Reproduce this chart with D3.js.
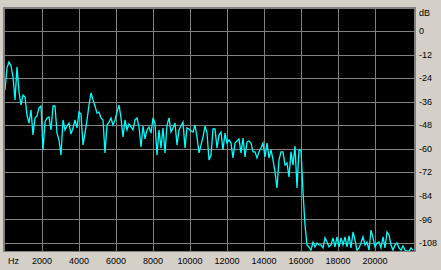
<!DOCTYPE html>
<html>
<head>
<meta charset="utf-8">
<script src="https://cdn.jsdelivr.net/npm/d3@7"></script>
<style>
  html, body { margin: 0; padding: 0; background: #d4d0c8; }
  text { font-family: "Liberation Sans", Arial, sans-serif; font-size: 9px; fill: #000; }
</style>
</head>
<body>
<script>
// spectrum levels in dB, one value per analysis bin from 0 Hz up to Nyquist
const levels = [
  -30.1, -18.8, -15.8, -17.8, -23.4, -35.1, -18.3, -31.1, -37.7, -32.6,
  -33.6, -42.8, -46.9, -40.2, -53.0, -44.3, -43.3, -39.2, -38.2, -60.6,
  -46.4, -44.3, -43.8, -50.4, -38.2, -38.2, -52.0, -55.5, -63.2, -45.3,
  -50.4, -48.4, -46.9, -52.5, -49.4, -45.3, -49.4, -41.3, -42.3, -58.1,
  -52.0, -45.3, -37.7, -31.6, -35.1, -38.2, -41.8, -41.3, -44.3, -45.3,
  -62.1, -47.9, -46.4, -44.3, -47.9, -45.3, -41.3, -37.7, -44.3, -54.0,
  -45.3, -50.4, -47.4, -48.9, -50.4, -45.3, -44.3, -48.9, -59.1, -48.4,
  -55.0, -50.4, -48.9, -52.0, -44.3, -46.9, -63.2, -50.4, -59.6, -49.4,
  -62.1, -47.9, -44.3, -51.5, -49.4, -46.9, -58.1, -50.4, -48.4, -46.4,
  -59.6, -49.4, -49.9, -50.9, -51.5, -47.9, -54.0, -62.1, -58.1, -54.0,
  -48.4, -52.0, -65.7, -63.2, -49.9, -49.9, -59.6, -53.0, -51.5, -60.6,
  -52.0, -57.1, -55.5, -57.1, -64.7, -57.1, -56.0, -55.0, -62.1, -54.5,
  -64.2, -56.5, -56.0, -57.1, -61.6, -61.6, -64.7, -61.6, -59.6, -57.1,
  -64.2, -57.1, -64.7, -60.6, -65.7, -71.8, -80.0, -65.7, -61.6, -61.6,
  -68.3, -67.2, -74.4, -61.6, -68.3, -58.6, -80.0, -60.6, -60.6, -82.0,
  -98.8, -109.0, -110.0, -111.6, -107.5, -110.0, -108.0, -109.0, -109.0, -110.5,
  -105.4, -107.5, -110.0, -109.0, -105.4, -110.0, -104.9, -110.0, -105.4, -109.0,
  -104.9, -110.0, -104.4, -110.5, -102.4, -106.5, -111.6, -110.5, -108.0, -104.9,
  -109.0, -107.5, -111.6, -101.4, -105.4, -110.0, -108.0, -107.5, -110.5, -104.9,
  -110.5, -102.4, -103.9, -109.0, -111.6, -109.0, -108.0, -110.5, -111.6, -109.5,
  -111.6, -112.1, -112.1, -110.5, -111.6
];
const nyquist = 22050;
const freqTicks = [2000, 4000, 6000, 8000, 10000, 12000, 14000, 16000, 18000, 20000];
const dbTicks = [0, -12, -24, -36, -48, -60, -72, -84, -96, -108];

const W = 441, H = 270;
const plot = {left: 5, top: 9, right: 414, bottom: 251};

const svg = d3.select("body").append("svg")
  .attr("width", W)
  .attr("height", H);

const x = d3.scaleLinear().domain([0, nyquist]).range([plot.left, 413]);
const y = d3.scaleLinear().domain([0, -108]).range([31, 243]);

// sunken frame + black plot area
svg.append("rect")
  .attr("x", plot.left - 2).attr("y", plot.top - 2)
  .attr("width", plot.right - plot.left + 4).attr("height", plot.bottom - plot.top + 3)
  .attr("fill", "#808080");
svg.append("rect")
  .attr("x", plot.right).attr("y", plot.top - 2)
  .attr("width", 2).attr("height", plot.bottom - plot.top + 3)
  .attr("fill", "#808080");
svg.append("rect")
  .attr("x", plot.left).attr("y", plot.top)
  .attr("width", plot.right - plot.left).attr("height", plot.bottom - plot.top)
  .attr("fill", "#000");

svg.append("clipPath").attr("id", "clip")
  .append("rect")
  .attr("x", plot.left).attr("y", plot.top)
  .attr("width", plot.right - plot.left).attr("height", plot.bottom - plot.top);

// grid
const grid = svg.append("g").attr("stroke", "#808080").attr("stroke-width", 1);
grid.selectAll("line.v").data(freqTicks).enter().append("line")
  .attr("x1", d => Math.round(x(d)) + 0.5).attr("x2", d => Math.round(x(d)) + 0.5)
  .attr("y1", plot.top).attr("y2", plot.bottom);
grid.selectAll("line.h").data(dbTicks).enter().append("line")
  .attr("y1", d => Math.round(y(d)) + 0.5).attr("y2", d => Math.round(y(d)) + 0.5)
  .attr("x1", plot.left).attr("x2", plot.right);

// spectrum line
const binHz = nyquist / (levels.length - 1);
const line = d3.line()
  .x((d, i) => x(i * binHz))
  .y(d => y(d));

svg.append("path")
  .datum(levels)
  .attr("clip-path", "url(#clip)")
  .attr("fill", "none")
  .attr("stroke", "#00ffff")
  .attr("stroke-width", 1.3)
  .attr("d", line);

// right dB labels
svg.append("text").attr("x", 419).attr("y", 13).attr("dy", "0.35em").text("dB");
svg.selectAll("text.db").data(dbTicks).enter().append("text")
  .attr("x", 419).attr("y", d => y(d)).attr("dy", "0.35em")
  .text(d => d);

// bottom Hz labels
svg.append("text").attr("x", 8).attr("y", 261).attr("dy", "0.35em").text("Hz");
svg.selectAll("text.hz").data(freqTicks).enter().append("text")
  .attr("x", d => x(d)).attr("y", 261).attr("dy", "0.35em")
  .attr("text-anchor", "middle")
  .text(d => d);
</script>
</body>
</html>
